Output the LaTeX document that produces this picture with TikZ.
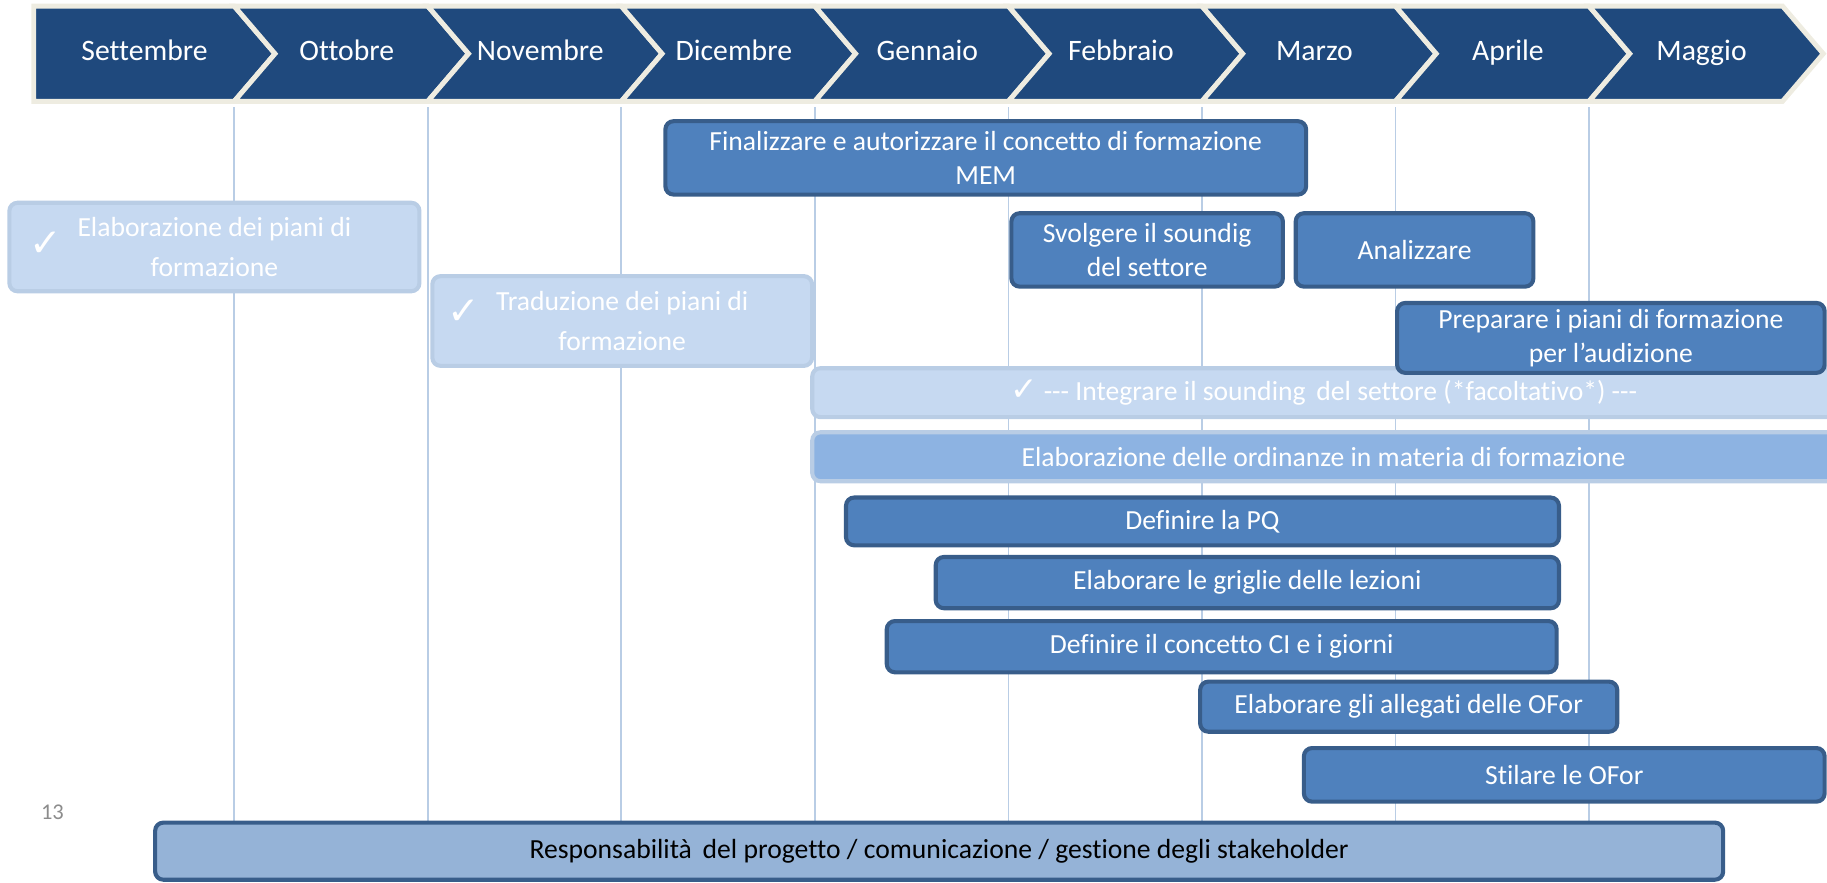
\documentclass[tikz,border=0pt]{standalone}
\usepackage{fontspec}
\setmainfont{Carlito}[Ligatures={NoCommon}]
\newfontfamily\checkfont{DejaVu Sans}
\usetikzlibrary{calc}

\definecolor{monthblue}{HTML}{1F497D}
\definecolor{monthedge}{HTML}{EEECE1}
\definecolor{gridblue}{HTML}{B9CDE5}
\definecolor{taskfill}{HTML}{4F81BD}
\definecolor{taskedge}{HTML}{385D8A}
\definecolor{donefill}{HTML}{C6D9F1}
\definecolor{doneedge}{HTML}{B9CDE5}
\definecolor{workfill}{HTML}{8DB3E2}
\definecolor{leadfill}{HTML}{95B3D7}
\definecolor{pagegray}{HTML}{8C8C8C}

\tikzset{
  chev/.style={fill=monthblue, draw=monthedge, line width=2.4pt, line join=miter},
  month/.style={text=white, font=\fontsize{14.5}{17}\selectfont, text height=10pt, text depth=2pt},
  grid line/.style={draw=gridblue, line width=0.8pt},
  task/.style={rectangle, rounded corners=4pt, draw=taskedge, fill=taskfill, line width=2pt,
    text=white, align=center, inner sep=0pt, font=\fontsize{13.5}{16.5}\selectfont},
  donetask/.style={task, draw=doneedge, fill=donefill, font=\fontsize{13.5}{19.5}\selectfont},
  worktask/.style={task, draw=doneedge, fill=workfill},
  leadtask/.style={task, fill=leadfill, text=black},
  tick/.style={text=white, inner sep=0pt, font=\checkfont\fontsize{19}{19}\selectfont}
}

\begin{document}
\begin{tikzpicture}[x=0.02cm, y=-0.02cm]
\useasboundingbox (0,0) rectangle (1568,757);
\foreach \i in {1,...,8}
  \draw[grid line] ({34.9+166.1*\i},92) -- ({34.9+166.1*\i},745);
\draw[chev] (29,5.2) -- (201,5.2) -- (236,46.1) -- (201,87) -- (29,87) -- cycle;
\node[month] (settembre) at (124,45) {Settembre};
\foreach \m [count=\i] in {Ottobre,Novembre,Dicembre,Gennaio,Febbraio,Marzo,Aprile,Maggio} {
  \draw[chev] ({34.9+166.1*\i},5.2) -- ++(166.1,0) -- ++(35,40.9) -- ++(-35,40.9)
    -- ++(-166.1,0) -- ++(35,-40.9) -- cycle;
  \node[month] (m\i) at ({131.5+166.1*\i},45) {\m};
}

\node[task, minimum width=11cm, minimum height=1.26cm] (finalize) at (846,135.5)
  {Finalizzare e autorizzare il concetto di formazione\\MEM};
\node[donetask, minimum width=7.04cm, minimum height=1.52cm] (elaborate) at (184,212)
  {Elaborazione dei piani di\\formazione};
\node[tick] (check1) at (39,210) {✓};
\node[task, minimum width=4.66cm, minimum height=1.26cm] (sound) at (984.5,214.5)
  {Svolgere il soundig\\del settore};
\node[task, minimum width=4.08cm, minimum height=1.26cm] (analyse) at (1214,214.5) {Analizzare};
\node[donetask, minimum width=6.52cm, minimum height=1.54cm] (translate) at (534,275.5)
  {Traduzione dei piani di\\formazione};
\node[tick] (check2) at (398,268) {✓};
\node[donetask, minimum width=17.56cm, minimum height=0.84cm] (integrate) at (1136,337)
  {{\checkfont\fontsize{16}{16}\selectfont ✓} -{}-{}- Integrare il sounding\, del settore (*facoltativo*) -{}-{}-};
\node[worktask, minimum width=17.56cm, minimum height=0.84cm] (ordinance) at (1136,392)
  {Elaborazione delle ordinanze in materia di formazione};
\node[task, minimum width=7.34cm, minimum height=1.2cm] (hearing) at (1382.5,290)
  {Preparare i piani di formazione\\per l’audizione};
\node[task, minimum width=12.24cm, minimum height=0.82cm] (pq) at (1032,447.5) {Definire la PQ};
\node[task, minimum width=10.7cm, minimum height=0.88cm] (grids) at (1070.5,500)
  {Elaborare le griglie delle lezioni};
\node[task, minimum width=11.5cm, minimum height=0.88cm] (ci) at (1048.5,555)
  {Definire il concetto CI e i giorni};
\node[task, minimum width=7.16cm, minimum height=0.86cm] (annex) at (1209,606.5)
  {Elaborare gli allegati delle OFor};
\node[task, minimum width=8.94cm, minimum height=0.92cm] (ofor) at (1342.5,665) {Stilare le OFor};
\node[leadtask, minimum width=26.92cm, minimum height=0.98cm] (lead) at (806,730.5)
  {Responsabilità\, del progetto / comunicazione / gestione degli stakeholder};
\node[text=pagegray, font=\fontsize{11}{13}\selectfont] (page) at (45,697) {13};
\end{tikzpicture}
\end{document}
